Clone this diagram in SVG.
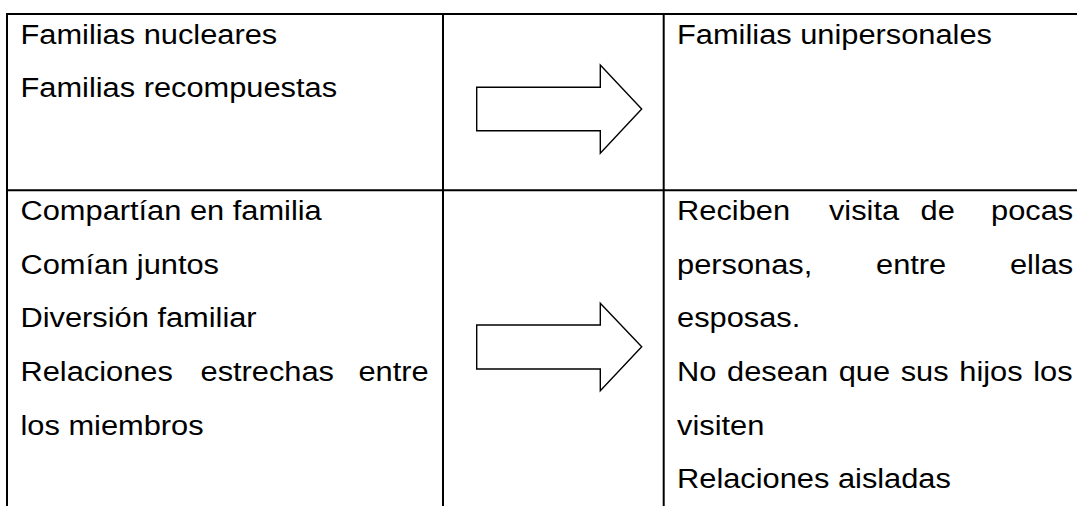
<svg xmlns="http://www.w3.org/2000/svg" width="1077" height="506" viewBox="0 0 1077 506">
<style>
.grid{stroke:#000;stroke-width:2;fill:none}
.arrow{fill:#fff;stroke:#000;stroke-width:1.4;stroke-linejoin:miter}
.t{font-family:"Liberation Sans",Arial,sans-serif;font-size:28px;fill:#000}
.e{text-anchor:end}
</style>
<rect width="1077" height="506" fill="#fff"/>
<g id="table" class="grid">
<line x1="6" y1="14" x2="1077" y2="14"/>
<line x1="7" y1="190.3" x2="1077" y2="190.3"/>
<line x1="7" y1="13" x2="7" y2="506"/>
<line x1="443" y1="14" x2="443" y2="506"/>
<line x1="663.7" y1="14" x2="663.7" y2="506"/>
</g>
<g id="connectors">
<polygon class="arrow" points="476.7,87.3 600.3,87.3 600.3,65 641.7,109 600.3,153.3 600.3,130.7 476.7,130.7"/>
<polygon class="arrow" points="476.7,325 600.3,325 600.3,303.3 641.7,346.7 600.3,390.7 600.3,369 476.7,369"/>
</g>
<g transform="scale(1.1 1)">
<g id="node-top-left" class="t">
<text x="18.64" y="44">Familias nucleares</text>
<text x="18.64" y="97.5">Familias recompuestas</text>
</g>
<g id="node-top-right" class="t">
<text x="615.5" y="44">Familias unipersonales</text>
</g>
<g id="node-bottom-left" class="t">
<text x="18.64" y="220">Compartían en familia</text>
<text x="18.64" y="273.7">Comían juntos</text>
<text x="18.64" y="327.4">Diversión familiar</text>
<text x="18.64" y="381">Relaciones</text>
<text x="182.3" y="381">estrechas</text>
<text class="e" x="389.7" y="381">entre</text>
<text x="18.64" y="434.7">los miembros</text>
</g>
<g id="node-bottom-right" class="t">
<text x="615.5" y="220">Reciben</text>
<text x="753.6" y="220">visita</text>
<text x="836.9" y="220">de</text>
<text class="e" x="975.7" y="220">pocas</text>
<text x="615.5" y="273.7">personas,</text>
<text x="796.4" y="273.7">entre</text>
<text class="e" x="975.7" y="273.7">ellas</text>
<text x="615.5" y="327.4">esposas.</text>
<text x="615.5" y="381" style="word-spacing:1.9px">No desean que sus hijos los</text>
<text x="615.5" y="434.7">visiten</text>
<text x="615.5" y="488.3">Relaciones aisladas</text>
</g>
</g>
</svg>
